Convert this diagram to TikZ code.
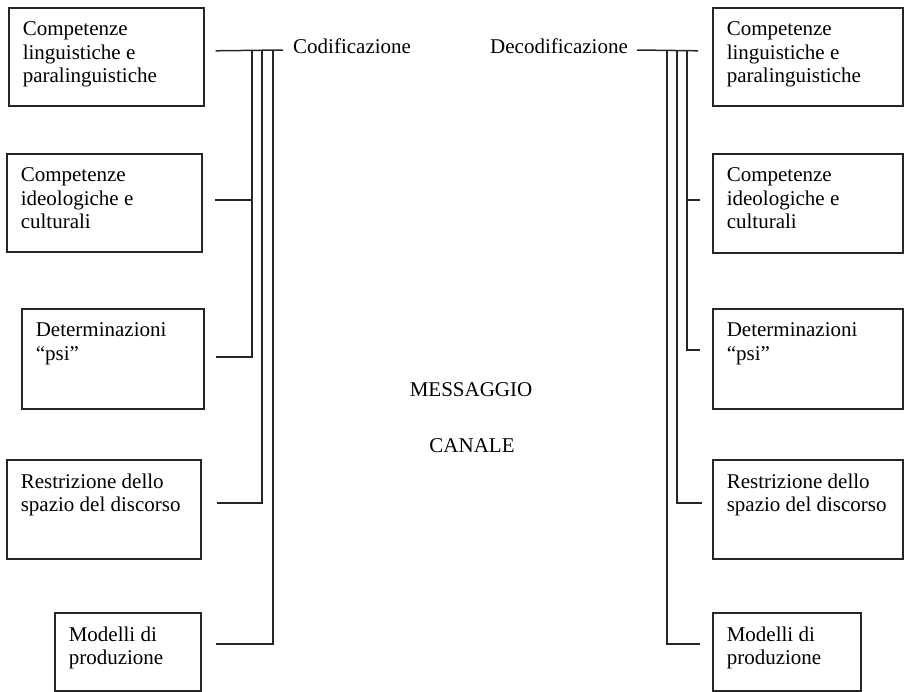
\documentclass[tikz,border=0pt]{standalone}
\usepackage{fontspec}
\setmainfont{Liberation Serif}
\usepackage{tikz}
\usetikzlibrary{positioning, calc}

\newcommand{\boxtxt}[3]{\parbox[c][#2][t]{#1}{\raggedright #3}}

\tikzset{
  box/.style={draw=black!85, line width=1.6pt, anchor=north west, inner sep=14pt},
  wire/.style={draw=black!85, line width=1.5pt},
  every node/.style={font=\fontsize{21}{23.5}\selectfont}
}

\begin{document}
\begin{tikzpicture}[x=1pt, y=-1pt]
    \useasboundingbox (0,0) rectangle (904,691);
    % left column
    \node [box] (lcomp) at (8,7) {\boxtxt{167pt}{70pt}{Competenze\\linguistiche e\\paralinguistiche}};
    \node [box] (lideo) at (6,153) {\boxtxt{167pt}{70pt}{Competenze\\ideologiche e\\culturali}};
    \node [box] (lpsi) at (21,308) {\boxtxt{154pt}{72pt}{Determinazioni\\``psi''}};
    \node [box] (lspaz) at (6,459) {\boxtxt{166pt}{71pt}{Restrizione dello\\spazio del discorso}};
    \node [box] (lmod) at (54,612) {\boxtxt{118pt}{50pt}{Modelli di\\produzione}};
    % right column
    \node [box] (rcomp) at (712,7) {\boxtxt{162pt}{70pt}{Competenze\\linguistiche e\\paralinguistiche}};
    \node [box] (rideo) at (712,153) {\boxtxt{162pt}{71pt}{Competenze\\ideologiche e\\culturali}};
    \node [box] (rpsi) at (712,308) {\boxtxt{162pt}{72pt}{Determinazioni\\``psi''}};
    \node [box] (rspaz) at (712,459) {\boxtxt{162pt}{71pt}{Restrizione dello\\spazio del discorso}};
    \node [box] (rmod) at (712,612) {\boxtxt{120pt}{50pt}{Modelli di\\produzione}};
    % labels
    \node [anchor=base west, inner sep=0pt] (cod) at (293,53) {Codificazione};
    \node [anchor=base east, inner sep=0pt] (decod) at (628,53) {Decodificazione};
    \node [anchor=base, inner sep=0pt] (msg) at (471,396) {MESSAGGIO};
    \node [anchor=base, inner sep=0pt] (can) at (472,452) {CANALE};
    % bus lines
    \coordinate (lend) at (283,50);
    \coordinate (lbus1) at (252,50);
    \coordinate (lbus2) at (262,50);
    \coordinate (lbus3) at (273,50);
    \coordinate (rend) at (637,50);
    \coordinate (rbus1) at (687,50);
    \coordinate (rbus2) at (677,50);
    \coordinate (rbus3) at (667,50);

    \draw [wire] ([shift={(11,-6)}]lcomp.east) -- (lend);
    \draw [wire] ([shift={(12,-3)}]lideo.east) -| (lbus1);
    \draw [wire] ([shift={(11,-2)}]lpsi.east) -| (lbus1);
    \draw [wire] ([shift={(15,-6.5)}]lspaz.east) -| (lbus2);
    \draw [wire] ([shift={(14,-8)}]lmod.east) -| (lbus3);

    \draw [wire] ([shift={(-14,-6)}]rcomp.west) -- (rend);
    \draw [wire] ([shift={(-12,-3.5)}]rideo.west) -| (rbus1);
    \draw [wire] ([shift={(-12,-9)}]rpsi.west) -| (rbus1);
    \draw [wire] ([shift={(-10,-6.5)}]rspaz.west) -| (rbus2);
    \draw [wire] ([shift={(-12,-8)}]rmod.west) -| (rbus3);
\end{tikzpicture}
\end{document}
